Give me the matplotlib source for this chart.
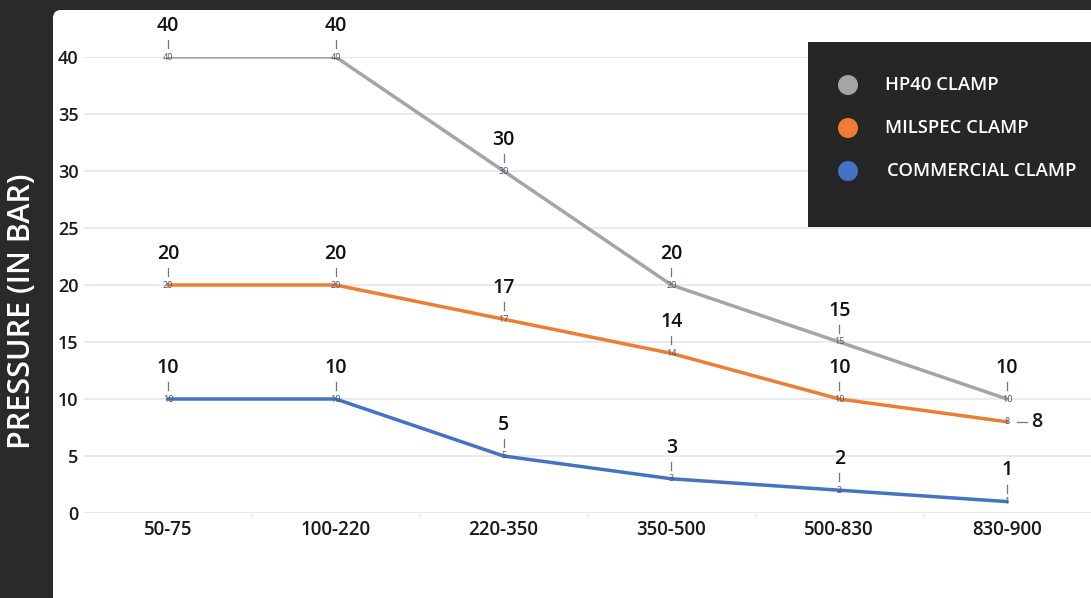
import matplotlib.pyplot as plt
from matplotlib.patches import FancyBboxPatch, Rectangle, Circle

plt.rcParams['font.family'] = ['Open Sans', 'DejaVu Sans']

# data
categories = ["50-75", "100-220", "220-350", "350-500", "500-830", "830-900"]
hp40 = [40, 40, 30, 20, 15, 10]
milspec = [20, 20, 17, 14, 10, 8]
commercial = [10, 10, 5, 3, 2, 1]
series_names = ["HP40 CLAMP", "MILSPEC CLAMP", "COMMERCIAL CLAMP"]
colors = ["#a5a5a5", "#ed7d31", "#4472c4"]
y_ticks = [0, 5, 10, 15, 20, 25, 30, 35, 40]

W, H = 1091, 598
fig = plt.figure(figsize=(W / 100, H / 100), dpi=100)
fig.patch.set_facecolor("#2a2a2a")

# white card behind the chart (pixel coords)
card = FancyBboxPatch((53, -40), W, H - 10 + 40, boxstyle="round,pad=0,rounding_size=8",
                      transform=None, facecolor="white", edgecolor="none", zorder=-5)
fig.patches.append(card)

ax = fig.add_axes([84 / W, (H - 513) / H, (W - 84) / W, (513 - 57) / H])
ax.set_facecolor("none")
x = list(range(len(categories)))

for vals, c in zip([hp40, milspec, commercial], colors):
    ax.plot(x, vals, color=c, lw=2.5, solid_capstyle="round", zorder=3)
    for xi, v in zip(x, vals):
        ax.text(xi, v, str(v), fontsize=6.5, color="#44546a", ha="center", va="center", zorder=4)
        if c == colors[1] and xi == x[-1]:
            # the last milspec label sits to the right
            ax.plot([xi + 0.06, xi + 0.12], [v, v], color="#777777", lw=0.9,
                    clip_on=False, zorder=4)
            ax.annotate(str(v), xy=(xi, v), xytext=(17, 0), textcoords="offset points",
                        fontsize=14, color="#111111", ha="left", va="center",
                        fontweight="semibold", annotation_clip=False)
        else:
            ax.annotate(str(v), xy=(xi, v), xytext=(0, 22.5), textcoords="offset points",
                        fontsize=14, color="#111111", ha="center", va="center",
                        fontweight="semibold", annotation_clip=False)
            ax.plot([xi, xi], [v + 9 / 11.4, v + 17 / 11.4], color="#777777", lw=0.9,
                    clip_on=False, zorder=4)

ax.set_xlim(-0.5, 5.5)
ax.set_ylim(0, 40)
ax.set_xticks(x)
ax.set_xticklabels(categories, fontsize=13.5, color="#1a1a1a", fontweight="semibold")
ax.set_xticks([i + 0.5 for i in x[:-1]], minor=True)
ax.set_yticks(y_ticks)
ax.set_yticklabels([str(t) for t in y_ticks], fontsize=13, color="#1a1a1a",
                   fontweight="semibold")
ax.tick_params(axis="x", which="major", length=0, pad=5)
ax.tick_params(axis="x", which="minor", length=3, color="#e3e3ec")
ax.tick_params(axis="y", length=0, pad=4)
ax.grid(axis="y", color="#e3e3ec", lw=1.1)
ax.set_axisbelow(True)
for s in ax.spines.values():
    s.set_visible(False)

fig.text(22 / W, 1 - 311 / H, "PRESSURE (IN BAR)", rotation=90, color="white",
         fontsize=22, fontweight="semibold", ha="center", va="center")

# legend box in pixel coords
fig.patches.append(Rectangle((808, H - 227), W - 808, 185, transform=None,
                             facecolor="#262626", edgecolor="none", zorder=5))
for i, (name, c) in enumerate(zip(series_names, colors)):
    yp = H - (85 + 43 * i)
    fig.patches.append(Circle((848, yp), 10, transform=None, facecolor=c,
                              edgecolor="none", zorder=6))
    fig.text((885 + (2 if i == 2 else 0)) / W, yp / H, name, color="white",
             fontsize=13.3, fontweight="semibold", ha="left", va="center", zorder=7)

fig.savefig("out.png", dpi=100, facecolor=fig.get_facecolor())
